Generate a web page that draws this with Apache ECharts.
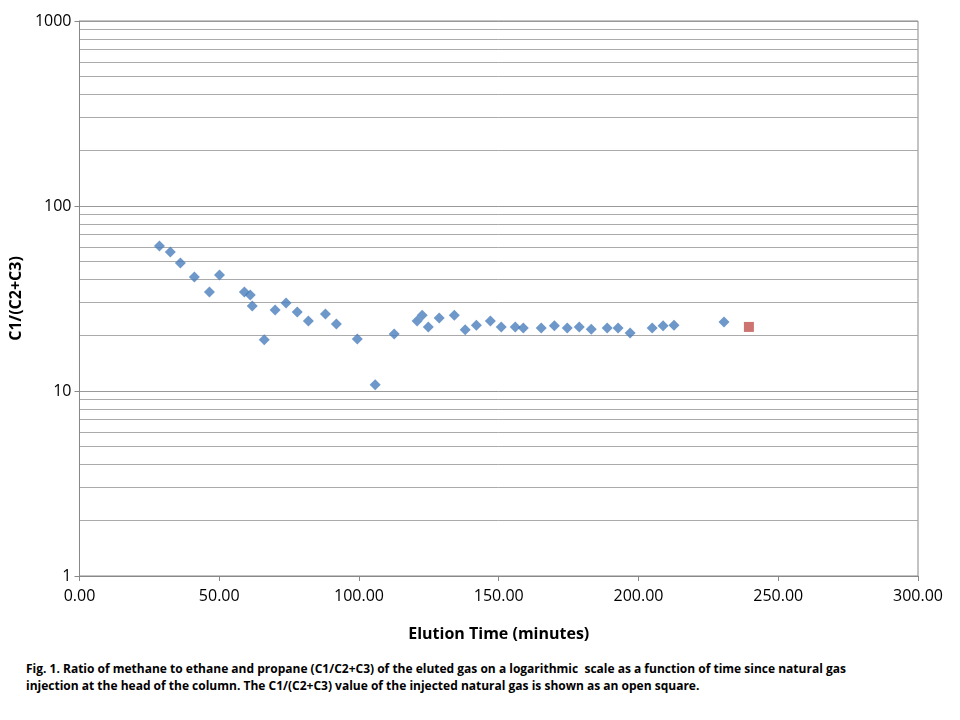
<!DOCTYPE html>
<html>
<head>
<meta charset="UTF-8">
<script src="https://cdn.jsdelivr.net/npm/echarts@6/dist/echarts.min.js"></script>
<style>
body { margin: 0; background: #fff; }
#main { width: 960px; height: 650px; }
#cap { position: absolute; left: 26px; top: 660px; width: 870px; font: bold 12px "Open Sans", "Liberation Sans", Arial, sans-serif; line-height: 17px; color: #000; }
</style>
</head>
<body>
<div id="main"></div>
<div id="cap">Fig. 1. Ratio of methane to ethane and propane (C1/C2+C3) of the eluted gas on a logarithmic&nbsp; scale as a function of time since natural gas injection at the head of the column. The C1/(C2+C3) value of the injected natural gas is shown as an open square.</div>
<script>
var elutionTime = [28.6, 32.5, 36.1, 41.1, 46.5, 50.1, 59.0, 61.1, 61.8, 66.1, 70.0, 73.9, 77.9, 81.9, 88.0, 91.9, 99.4, 105.8, 112.6, 120.8, 122.6, 124.8, 128.7, 134.1, 138.0, 142.0, 147.0, 150.9, 155.9, 158.8, 165.2, 169.9, 174.5, 178.8, 183.1, 188.8, 192.7, 197.0, 204.9, 208.8, 212.7, 230.6];
var ratio = [60.8, 56.4, 49.2, 41.3, 34.3, 42.4, 34.3, 33.0, 28.8, 18.9, 27.4, 29.9, 26.7, 23.9, 26.1, 23.0, 19.1, 10.8, 20.3, 23.9, 25.7, 22.2, 24.8, 25.7, 21.4, 22.7, 23.9, 22.2, 22.2, 21.9, 21.9, 22.5, 21.9, 22.2, 21.6, 21.9, 21.9, 20.6, 21.9, 22.5, 22.7, 23.6];
var injectedTime = [239.5];
var injectedRatio = [22.2];

var eluted = elutionTime.map(function (t, i) { return [t, ratio[i]]; });
var injected = injectedTime.map(function (t, i) { return [t, injectedRatio[i]]; });
var font = '"Open Sans", "Liberation Sans", Arial, sans-serif';

var chart = echarts.init(document.getElementById('main'));
chart.setOption({
    animation: false,
    grid: { left: 79, right: 42, top: 21, bottom: 74, show: true, borderColor: '#888', borderWidth: 1, containLabel: false },
    xAxis: {
        type: 'value', min: 0, max: 300, interval: 50,
        name: 'Elution Time (minutes)', nameLocation: 'middle', nameGap: 50,
        nameTextStyle: { fontFamily: font, fontSize: 16, fontWeight: 'bold', color: '#000' },
        axisLine: { lineStyle: { color: '#888' } },
        axisTick: { show: true, length: 5, lineStyle: { color: '#888' } },
        axisLabel: { fontFamily: font, fontSize: 16, color: '#000', margin: 12, formatter: function (v) { return v.toFixed(2); } },
        splitLine: { show: false }
    },
    yAxis: {
        type: 'log', logBase: 10, min: 1, max: 1000,
        name: 'C1/(C2+C3)', nameLocation: 'middle', nameGap: 52,
        nameTextStyle: { fontFamily: font, fontSize: 16, fontWeight: 'bold', color: '#000' },
        axisLine: { show: true, lineStyle: { color: '#888' } },
        axisTick: { show: true, length: 5, lineStyle: { color: '#888' } },
        axisLabel: { fontFamily: font, fontSize: 16, color: '#000', formatter: function (v) { return String(Math.round(v)); } },
        splitLine: { show: true, lineStyle: { color: '#999' } },
        minorTick: { show: false, splitNumber: 9 },
        minorSplitLine: { show: true, lineStyle: { color: '#aaa' } }
    },
    series: [
        { type: 'scatter', data: eluted, symbol: 'diamond', symbolSize: 11, itemStyle: { color: '#4a7ebb' } },
        { type: 'scatter', data: injected, symbol: 'rect', symbolSize: 10, itemStyle: { color: '#c0504d' } }
    ]
});
</script>
</body>
</html>
